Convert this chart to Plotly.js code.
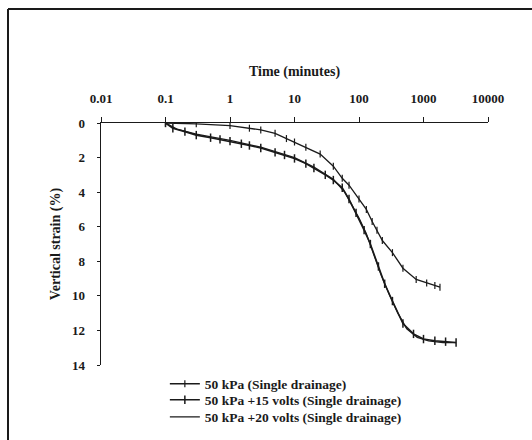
<!DOCTYPE html>
<html>
<head>
<meta charset="utf-8">
<script src="https://cdn.plot.ly/plotly-3.0.1.min.js"></script>
<style>html,body{margin:0;padding:0;background:#fff;}#chart{width:532px;height:440px;}</style>
</head>
<body>
<div id="chart"></div>
<script>
// Time (minutes) and vertical strain (%)
const timeA = [0.1, 0.3, 1, 2, 3, 5, 7.5, 10, 15, 25, 40, 55, 70, 100, 130, 160, 190, 230, 330, 480, 770, 1120, 1500, 1800];
const strainA = [0, 0.05, 0.15, 0.3, 0.4, 0.6, 0.9, 1.1, 1.4, 1.8, 2.5, 3.2, 3.6, 4.4, 5.0, 5.7, 6.2, 6.8, 7.5, 8.4, 9.05, 9.25, 9.4, 9.5];

const timeB = [0.1, 0.13, 0.2, 0.3, 0.5, 0.7, 1, 1.5, 2, 3, 5, 7, 10, 15, 20, 30, 40, 55, 70, 90, 120, 150, 200, 250, 330, 480, 700, 1000, 1500, 2200, 3200];
const strainB = [0, 0.3, 0.5, 0.7, 0.85, 0.95, 1.05, 1.2, 1.3, 1.45, 1.7, 1.85, 2.05, 2.35, 2.6, 3.0, 3.3, 3.75, 4.4, 5.2, 6.2, 7.0, 8.3, 9.3, 10.3, 11.6, 12.2, 12.5, 12.6, 12.65, 12.7];

const timeC = [0.1, 0.15, 0.3, 1, 3, 10, 20, 40, 60, 80, 100, 130, 170, 220, 300, 400, 550, 800, 1200, 2000, 3200];
const strainC = [0, 0.35, 0.65, 1.0, 1.4, 2.0, 2.55, 3.25, 4.0, 4.8, 5.5, 6.4, 7.6, 8.8, 10.0, 11.0, 11.9, 12.4, 12.6, 12.7, 12.7];

const names = ["50 kPa (Single drainage)", "50 kPa +15 volts (Single drainage)", "50 kPa +20 volts (Single drainage)"];
const xTickVals = [0.01, 0.1, 1, 10, 100, 1000, 10000];
const xTickText = ["0.01", "0.1", "1", "10", "100", "1000", "10000"];
const yTickVals = [0, 2, 4, 6, 8, 10, 12, 14];

const FONT = "Liberation Serif, Times New Roman, serif";
const INK = "#1a1a1a";
const tickFont = {family: FONT, size: 13, color: INK, weight: "bold"};
const titleFont = {family: FONT, size: 14, color: INK, weight: "bold"};
const legFont = {family: FONT, size: 13.5, color: INK, weight: "bold"};

const traces = [
  {x: timeA, y: strainA, name: names[0], mode: "lines+markers", legend: "legend",
   line: {color: INK, width: 1.3},
   marker: {symbol: "line-ns-open", size: 5, color: INK, line: {color: INK, width: 1.2}}},
  {x: timeB, y: strainB, name: names[1], mode: "lines+markers", legend: "legend2",
   line: {color: INK, width: 1.6},
   marker: {symbol: "line-ns-open", size: 6, color: INK, line: {color: INK, width: 1.5}}},
  {x: timeC, y: strainC, name: names[2], mode: "lines", legend: "legend3",
   line: {color: INK, width: 1.3}}
];

function leg(y) {
  return {x: 0.165, y: y, xanchor: "left", yanchor: "middle",
          bgcolor: "rgba(0,0,0,0)", font: legFont, itemwidth: 30};
}

const layout = {
  width: 532, height: 440,
  margin: {l: 101, r: 44, t: 123, b: 75, autoexpand: false},
  paper_bgcolor: "#fff", plot_bgcolor: "#fff",
  font: {family: FONT, size: 13, color: INK},
  showlegend: true,
  legend: leg(-0.0785),
  legend2: leg(-0.1446),
  legend3: leg(-0.2149),
  xaxis: {type: "log", side: "top", range: [-2, 4],
          tickmode: "array", tickvals: xTickVals, ticktext: xTickText,
          ticks: "outside", ticklen: 5, tickwidth: 1, tickcolor: INK,
          showline: true, linecolor: INK, linewidth: 1.2,
          showgrid: false, zeroline: false, automargin: false,
          ticklabelstandoff: 9,
          tickfont: tickFont,
          title: {text: "Time (minutes)", font: titleFont, standoff: 10}},
  yaxis: {range: [14, 0], tickmode: "array", tickvals: yTickVals,
          ticks: "outside", ticklen: 3, tickwidth: 1, tickcolor: INK,
          showline: true, linecolor: INK, linewidth: 1.5,
          showgrid: false, zeroline: false, automargin: false,
          ticklabelstandoff: 9,
          tickfont: tickFont,
          title: {text: "Vertical strain (%)", font: titleFont, standoff: 8}},
  shapes: [
    {type: "line", xref: "paper", yref: "paper", x0: -0.2403, x1: 1.12, y0: 1.471, y1: 1.471,
     line: {color: INK, width: 2}},
    {type: "line", xref: "paper", yref: "paper", x0: -0.2403, x1: -0.2403, y0: 1.471, y1: -0.32,
     line: {color: INK, width: 2}}
  ]
};

Plotly.newPlot("chart", traces, layout, {displayModeBar: false, staticPlot: true});
</script>
</body>
</html>
